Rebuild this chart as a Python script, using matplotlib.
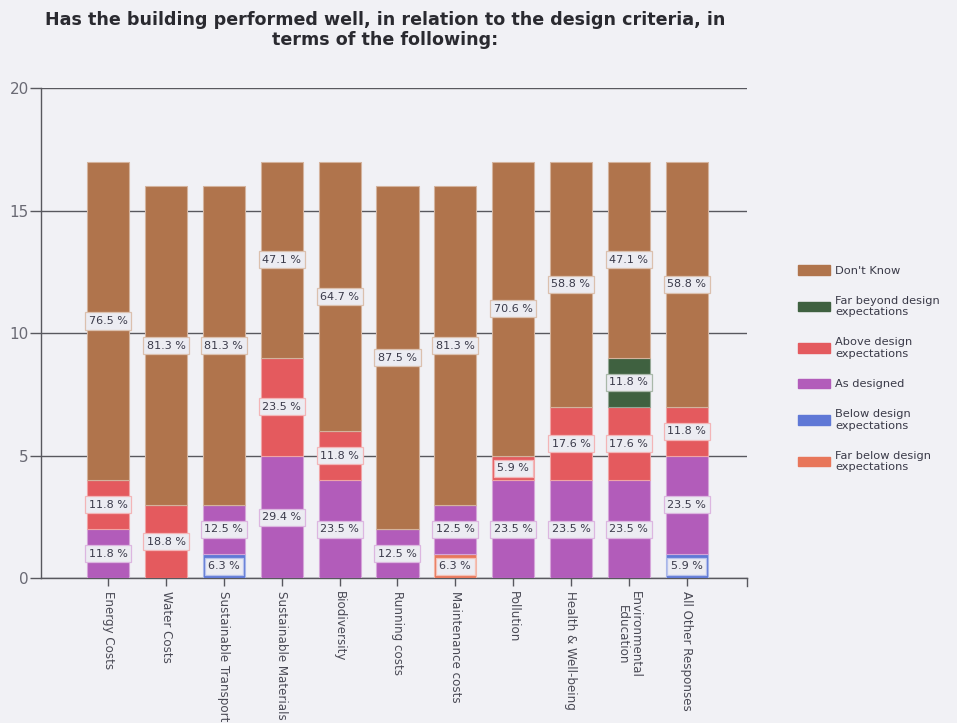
import math
import numpy as np
import matplotlib
matplotlib.use("Agg")
import matplotlib.pyplot as plt
from matplotlib.patches import Patch

plt.rcParams['font.family'] = ['DejaVu Sans']

# Survey question: building performance against design criteria
title = ("Has the building performed well, in relation to the design criteria, in\n"
         "terms of the following:")

categories = [
    "Energy Costs", "Water Costs", "Sustainable Transport", "Sustainable Materials",
    "Biodiversity", "Running costs", "Maintenance costs", "Pollution",
    "Health & Well-being", "Environmental\nEducation", "All Other Responses",
]

# Response counts per category (stacked bottom to top)
far_below = [0, 0, 0, 0, 0, 0, 1, 0, 0, 0, 0]
below = [0, 0, 1, 0, 0, 0, 0, 0, 0, 0, 1]
as_designed = [2, 0, 2, 5, 4, 2, 2, 4, 4, 4, 4]
above = [2, 3, 0, 4, 2, 0, 0, 1, 3, 3, 2]
far_beyond = [0, 0, 0, 0, 0, 0, 0, 0, 0, 2, 0]
dont_know = [13, 13, 13, 8, 11, 14, 13, 12, 10, 8, 10]

series_names = ["Far below design\nexpectations", "Below design\nexpectations",
                "As designed", "Above design\nexpectations",
                "Far beyond design\nexpectations", "Don't Know"]
series_values = [far_below, below, as_designed, above, far_beyond, dont_know]
series_colors = ["#E8765A", "#5F78D6", "#B25CBA", "#E45A5E", "#3F6140", "#B0744C"]

y_ticks = [0, 5, 10, 15, 20]

bg = "#F1F1F5"
fig = plt.figure(figsize=(9.57, 7.23), dpi=100, facecolor=bg)
ax = fig.add_axes([0.043, 0.200, 0.738, 0.678], facecolor=bg)

x = np.arange(len(categories))
totals = np.sum(np.array(series_values), axis=0)
width = 0.73


def pct_text(count, total):
    # round half up to one decimal place
    p = math.floor(count / total * 1000 + 0.5) / 10
    return f"{p:.1f} %"


def lighten(hex_color, amt):
    rgb = np.array(matplotlib.colors.to_rgb(hex_color))
    return tuple(rgb + (1 - rgb) * amt)


bottom = np.zeros(len(categories))
for name, vals, col in zip(series_names, series_values, series_colors):
    vals = np.array(vals, dtype=float)
    ax.bar(x, vals, width, bottom=bottom, color=col,
           edgecolor=lighten(col, 0.45), linewidth=0.8, zorder=3)
    for i, v in enumerate(vals):
        if v > 0:
            ax.text(x[i], bottom[i] + v / 2, pct_text(v, totals[i]),
                    ha="center", va="center", fontsize=8.0, color="#3a3a4a",
                    zorder=5,
                    bbox=dict(boxstyle="square,pad=0.32", facecolor="#ECECF2",
                              edgecolor=lighten(col, 0.55), linewidth=0.9))
    bottom += vals

ax.set_xlim(-1.16, 11.05)
ax.set_ylim(0, 20)
ax.set_yticks(y_ticks)
ax.set_yticklabels([str(t) for t in y_ticks], fontsize=11, color="#6a6a74")
ax.yaxis.grid(True, color="#58585e", linewidth=1.0, zorder=1)
ax.set_axisbelow(True)

ax.set_xticks(x)
ax.set_xticklabels(categories, rotation=270, fontsize=8.6, color="#4a4a55",
                   va="top", ha="center", linespacing=0.95)
ax.tick_params(axis="x", length=6, width=1, color="#58585e", pad=3)
ax.tick_params(axis="y", length=8, width=1, color="#58585e", pad=1)

for s in ["top", "right"]:
    ax.spines[s].set_visible(False)
for s in ["left", "bottom"]:
    ax.spines[s].set_color("#58585e")
    ax.spines[s].set_linewidth(1.0)

# closing tick at the right end of the category axis
ax.plot([11.05, 11.05], [0, -0.3], color="#58585e", linewidth=1.0,
        clip_on=False, zorder=4)

fig.text(0.402, 0.985, title, ha="center", va="top", fontsize=12.6,
         fontweight="bold", color="#2a2a30", linespacing=1.15)

handles = [Patch(facecolor=c, edgecolor=c) for c in series_colors][::-1]
leg = fig.legend(handles, series_names[::-1], loc="center left",
                 bbox_to_anchor=(0.823, 0.49), frameon=False, fontsize=8.2,
                 handlelength=2.8, handleheight=0.9, labelspacing=1.75,
                 handletextpad=0.5, labelcolor="#3a3a48")

fig.savefig("out.png", dpi=100, facecolor=bg)
